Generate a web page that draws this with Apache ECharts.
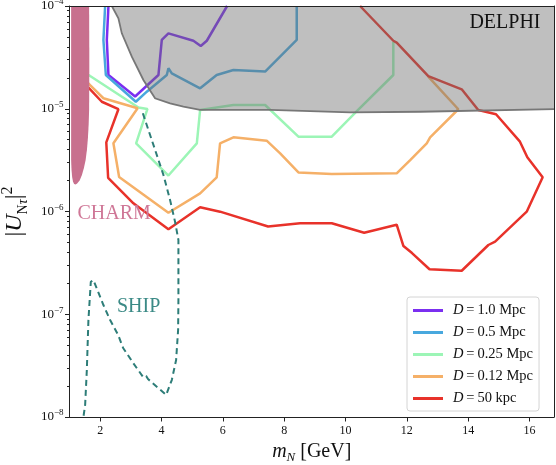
<!DOCTYPE html>
<html><head><meta charset="utf-8">
<script src="https://cdn.jsdelivr.net/npm/echarts@6/dist/echarts.min.js"></script>
<style>html,body{margin:0;padding:0;background:#fff}#c{width:556px;height:465px}</style>
</head><body><div id="c"></div>
<script>
// ---------- data ----------
const xTicks = [2, 4, 6, 8, 10, 12, 14, 16];
const yTicks = [1e-8, 1e-7, 1e-6, 1e-5, 1e-4];
const yMinorTicks = [2e-8,3e-8,4e-8,5e-8,6e-8,7e-8,8e-8,9e-8,
  2e-7,3e-7,4e-7,5e-7,6e-7,7e-7,8e-7,9e-7,
  2e-6,3e-6,4e-6,5e-6,6e-6,7e-6,8e-6,9e-6,
  2e-5,3e-5,4e-5,5e-5,6e-5,7e-5,8e-5,9e-5];
const seriesNames = ['D = 1.0 Mpc', 'D = 0.5 Mpc', 'D = 0.25 Mpc', 'D = 0.12 Mpc', 'D = 50 kpc'];

const d1Mpc = [[2.27,1e-4],[2.217,4.67e-5],[2.27,2.13e-5],[3.14,1.315e-5],[3.90,2.13e-5],[4.01,4.67e-5],
  [4.226,5.42e-5],[5.04,4.59e-5],[5.28,4.08e-5],[5.478,4.59e-5],[6.14,1e-4]];
const d05Mpc = [[2.162,1e-4],[2.106,4.67e-5],[2.185,2.13e-5],[3.163,1.17e-5],[3.521,1.466e-5],[4.173,2.13e-5],
  [4.226,2.48e-5],[4.336,2.21e-5],[5.26,1.58e-5],[5.80,2.13e-5],[6.345,2.38e-5],[7.38,2.3e-5],[8.41,4.67e-5],[8.41,1e-4]];
const d025Mpc = [[1.41,2.35e-5],[1.673,2.08e-5],[3.248,1.03e-5],[3.541,9.95e-6],[3.173,4.61e-6],[4.226,2.24e-6],
  [5.152,4.61e-6],[5.26,9.73e-6],[6.345,1.087e-5],[7.38,1.087e-5],[8.465,5.35e-6],[9.553,5.35e-6],[10.37,9.5e-6],
  [11.56,2.13e-5],[11.56,4.46e-5]];
const d012Mpc = [[1.41,2.04e-5],[1.673,1.70e-5],[2.106,1.265e-5],[3.221,1.01e-5],[2.432,4.61e-6],[2.618,2.17e-6],
  [4.226,9.73e-7],[5.26,1.50e-6],[5.80,2.15e-6],[5.91,4.61e-6],[6.345,5.27e-6],[7.43,4.89e-6],[7.87,3.68e-6],
  [8.465,2.40e-6],[9.553,2.32e-6],[11.67,2.35e-6],[12.11,3.17e-6],[12.65,4.61e-6],[12.76,5.27e-6],[13.68,9.89e-6],
  [12.70,2.05e-5]];
const d50kpc = [[1.41,1.87e-5],[1.673,1.545e-5],[2.054,1.17e-5],[2.595,9.9e-6],[2.20,4.70e-6],[2.26,2.13e-6],
  [3.084,1.20e-6],[4.226,6.71e-7],[5.26,1.10e-6],[5.91,9.96e-7],[7.476,7.15e-7],[8.52,7.68e-7],[9.553,7.68e-7],
  [10.61,6.22e-7],[11.67,7.44e-7],[11.89,4.61e-7],[12.17,3.94e-7],[12.74,2.74e-7],[13.79,2.65e-7],[14.66,4.72e-7],
  [14.88,5.09e-7],[15.91,9.96e-7],[16.43,2.15e-6],[15.93,3.37e-6],[15.69,4.78e-6],[14.91,8.83e-6],[14.33,9.73e-6],
  [13.79,1.545e-5],[12.70,2.08e-5],[11.67,4.40e-5],[11.56,4.59e-5],[10.476,1e-4]];
const ship = [[3.391,9.03e-6],[3.792,3.97e-6],[4.063,2.27e-6],[4.281,1.29e-6],[4.444,7.91e-7],[4.552,5.28e-7],
  [4.552,1.38e-7],[4.542,7.03e-8],[4.477,3.59e-8],[4.336,2.29e-8],[4.151,1.64e-8],[3.56,2.34e-8],[3.50,2.51e-8],
  [3.40,2.45e-8],[3.075,3.36e-8],[2.749,4.70e-8],[2.586,6.28e-8],[2.325,8.79e-8],[2.106,1.23e-7],[1.78,2.15e-7],
  [1.695,2.07e-7],[1.617,8.79e-8],[1.565,2.86e-8],[1.51,1.31e-8],[1.454,1e-8]];
const delphiBoundary = [[2.38,1e-4],[2.595,7.59e-5],[2.706,5.42e-5],[3.032,3.21e-5],[3.41,1.905e-5],[3.79,1.265e-5],
  [4.28,1.13e-5],[4.715,1.047e-5],[5.26,9.73e-6],[7.54,9.73e-6],[10.15,9.22e-6],[12.43,9.35e-6],[16.8,9.9e-6]];
const delphiTop = [[16.8,1e-4]];
const charm = [[1.053,1e-4],[1.64,1e-4],[1.647,2.98e-5],[1.64,9.73e-6],[1.624,6.95e-6],[1.601,5.19e-6],
  [1.568,3.97e-6],[1.526,3.17e-6],[1.47,2.65e-6],[1.405,2.26e-6],[1.33,2.0e-6],[1.249,1.87e-6],[1.20,1.83e-6],
  [1.151,1.85e-6],[1.112,1.96e-6],[1.086,2.17e-6],[1.066,2.54e-6],[1.053,3.17e-6]];
const labels = [['DELPHI',15.2,6.84e-5],['CHARM',2.455,9.46e-7],['SHIP',3.254,1.18e-7]];

// ---------- style ----------
const FONT = 'Liberation Serif';
const colors = ['#7b2ff0', '#48a8de', '#9cf5b6', '#f5b068', '#e8322a'];
const lineSets = [d1Mpc, d05Mpc, d025Mpc, d012Mpc, d50kpc];
const labelColors = {DELPHI: '#111', CHARM: '#cf7797', SHIP: '#3b8a86'};

const series = lineSets.map((d, i) => ({
  name: seriesNames[i], type: 'line', data: d, symbol: 'none', z: 2,
  lineStyle: {color: colors[i], width: 2.5}, itemStyle: {color: colors[i]}
}));
series.push({
  name: 'SHIP', type: 'line', data: ship, symbol: 'none', z: 2,
  lineStyle: {color: '#2d7d78', width: 2, type: [6, 4]}
});
series.push({
  name: 'DELPHI', type: 'custom', z: 5, clip: true,
  data: delphiBoundary,
  renderItem: (params, api) => {
    if (params.dataIndex !== 0) return;
    const b = delphiBoundary.map(p => api.coord(p));
    const poly = b.concat(delphiTop.map(p => api.coord(p)));
    return {type: 'group', children: [
      {type: 'polygon', shape: {points: poly}, style: {fill: 'rgba(110,110,110,0.44)'}},
      {type: 'polyline', shape: {points: b}, style: {stroke: '#777', lineWidth: 1.8, fill: null}}
    ]};
  }
});
series.push({
  name: 'CHARM', type: 'custom', z: 6, clip: true,
  data: charm,
  renderItem: (params, api) => {
    if (params.dataIndex !== 0) return;
    return {type: 'polygon', shape: {points: charm.map(p => api.coord(p))},
      style: {fill: '#c8708e'}};
  }
});
series.push({
  name: 'labels', type: 'custom', z: 7,
  data: labels.map(l => [l[1], l[2]]),
  renderItem: (params, api) => {
    const l = labels[params.dataIndex];
    const p = api.coord([l[1], l[2]]);
    return {type: 'text', x: p[0], y: p[1], style: {text: l[0], fill: labelColors[l[0]],
      font: '20px "' + FONT + '"', align: 'center', verticalAlign: 'middle'}};
  }
});

const axisColor = '#222';
const option = {
  animation: false,
  backgroundColor: '#fff',
  grid: {left: 69.5, top: 6, width: 484.5, height: 411, outerBoundsMode: 'none', containLabel: false},
  legend: {
    data: seriesNames, orient: 'vertical', left: 407, top: 297,
    padding: [6, 6, 5, 6], itemGap: 7, itemWidth: 30, itemHeight: 3, icon: 'rect',
    backgroundColor: 'rgba(255,255,255,0.85)', borderColor: '#d4d4d4', borderWidth: 1, borderRadius: 3,
    formatter: n => '{i|D}{r|\u2009=\u2009' + n.slice(4) + '}',
    textStyle: {fontFamily: FONT, fontSize: 14.5, color: '#111', padding: [0, 0, 0, 5],
      rich: {i: {fontFamily: FONT, fontSize: 14.5, fontStyle: 'italic', lineHeight: 14},
             r: {fontFamily: FONT, fontSize: 14.5, lineHeight: 14}}}
  },
  xAxis: [{
    type: 'value', min: 1, max: 16.8, position: 'bottom', z: 10,
    axisLine: {lineStyle: {color: axisColor, width: 1}},
    axisTick: {customValues: xTicks, length: 4.5, lineStyle: {color: axisColor}},
    axisLabel: {customValues: xTicks, fontFamily: FONT, fontSize: 12, color: '#111', margin: 7.5},
    splitLine: {show: false},
    name: '{i|m}{s|N}{r| [GeV]}', nameLocation: 'middle', nameGap: 19,
    nameTextStyle: {rich: {
      i: {fontFamily: FONT, fontSize: 20, fontStyle: 'italic', lineHeight: 26, color: '#111'},
      s: {fontFamily: FONT, fontSize: 13, fontStyle: 'italic', lineHeight: 18, verticalAlign: 'bottom', color: '#111'},
      r: {fontFamily: FONT, fontSize: 20, lineHeight: 26, color: '#111'}}}
  }, {
    type: 'value', min: 1, max: 16.8, position: 'top', z: 10,
    axisLine: {lineStyle: {color: axisColor, width: 1}}, axisTick: {show: false}, axisLabel: {show: false},
    splitLine: {show: false}
  }],
  yAxis: [{
    type: 'log', logBase: 10, min: 1e-8, max: 1e-4, position: 'left', z: 10,
    axisLine: {show: true, lineStyle: {color: axisColor, width: 1}},
    axisTick: {show: true, customValues: yTicks, length: 4.5, lineStyle: {color: axisColor}},
    axisLabel: {customValues: yTicks, margin: 6,
      formatter: v => '{b|10}{s|\u2212' + Math.round(-Math.log10(v)) + '}',
      rich: {b: {fontFamily: FONT, fontSize: 13, lineHeight: 17, color: '#111'},
             s: {fontFamily: FONT, fontSize: 9, lineHeight: 9, verticalAlign: 'top', color: '#111'}}},
    splitLine: {show: false}, minorTick: {show: false},
    name: '{r||}{i|U}{s|N}{si|\u03c4}{r||}{p|2}', nameLocation: 'middle', nameGap: 37, nameRotate: 90,
    nameTextStyle: {rich: {
      r: {fontFamily: FONT, fontSize: 24, lineHeight: 30, color: '#111'},
      i: {fontFamily: FONT, fontSize: 24, fontStyle: 'italic', lineHeight: 30, color: '#111'},
      s: {fontFamily: FONT, fontSize: 14, lineHeight: 20, verticalAlign: 'bottom', color: '#111'},
      si: {fontFamily: FONT, fontSize: 14, fontStyle: 'italic', lineHeight: 20, verticalAlign: 'bottom', color: '#111'},
      p: {fontFamily: FONT, fontSize: 16, lineHeight: 16, verticalAlign: 'top', color: '#111'}}}
  }, {
    type: 'log', logBase: 10, min: 1e-8, max: 1e-4, position: 'left', z: 10,
    axisLine: {show: false},
    axisTick: {show: true, customValues: yMinorTicks, length: 2.5, lineStyle: {color: axisColor}},
    axisLabel: {show: false}, splitLine: {show: false}
  }, {
    type: 'log', logBase: 10, min: 1e-8, max: 1e-4, position: 'right', z: 10,
    axisLine: {show: true, lineStyle: {color: axisColor, width: 1}},
    axisTick: {show: false}, axisLabel: {show: false}, splitLine: {show: false}
  }],
  series: series
};
const chart = echarts.init(document.getElementById('c'), null, {renderer: 'canvas'});
chart.setOption(option);
</script></body></html>
